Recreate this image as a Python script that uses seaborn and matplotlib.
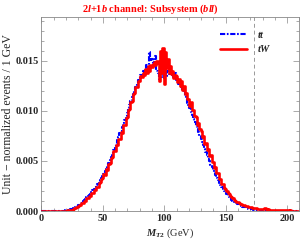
import numpy as np
import pandas as pd
import matplotlib
matplotlib.use("Agg")
import matplotlib.pyplot as plt
from matplotlib.ticker import MultipleLocator, FormatStrFormatter
import seaborn as sns

# --- DATA (unit-normalized events per 1 GeV bin, in units of 1e-4) ---
MT2_BINS = list(range(0, 210))

TW_VALUES = [
    0, 0, 0, 0, 0, 0, 0, 0, 0, 0,
    0, 0, 0, 0, 0, 0, 0, 0, 0.2, 0.3,
    0.5, 0.6, 1, 0.8, 1.2, 1.5, 2, 2.6, 3.2, 4,
    4.6, 6, 6.2, 8, 8, 10.5, 10.5, 13, 13, 15.5,
    15.5, 18, 18, 21, 21, 24.5, 24.5, 28.5, 29, 32,
    33, 37, 36, 42, 41, 47, 48, 53, 54, 60,
    60, 66, 66, 72, 72, 79, 78, 86, 86, 93,
    94, 101, 102, 109, 110, 117, 118, 124, 124, 130,
    130, 135, 134, 138, 136, 142, 138, 145, 140, 146,
    144, 147, 149, 146, 150, 148, 130, 160, 138, 163,
    127, 159, 143, 152, 138, 145, 137, 140, 133, 136,
    135, 129, 132, 125, 130, 121, 125, 117, 118, 112,
    112, 105, 109, 101, 101, 95, 94, 86, 88, 82,
    80, 74, 75, 67, 68, 61, 62, 55, 56, 49,
    49, 43, 44, 38, 38, 32, 32, 27, 27, 23,
    22, 20, 18, 17, 15, 14, 13, 11, 10, 9.5,
    9, 8.3, 7.5, 7, 6.5, 6, 5.5, 5, 4.6, 4.2,
    4, 3.6, 3.4, 3, 3, 2.6, 2.5, 2.3, 2.2, 2,
    2.2, 1.8, 3, 1.6, 1.5, 1.7, 1.4, 1.3, 1.5, 1.2,
    1.2, 1, 1.1, 0.9, 1, 0.8, 0.9, 0.7, 0.8, 0.6,
    0.7, 0.6, 0.5, 0.6, 0.5, 0.4, 0.5, 0.4, 0.4, 0.3,
]

TT_VALUES = [
    0, 0, 0, 0, 0, 0, 0, 0, 0, 0,
    0, 0, 0, 0, 0, 0, 0, 0.2, 0.3, 0.4,
    0.6, 0.8, 1.2, 1.5, 1.8, 2.3, 2.8, 3.5, 4.2, 5,
    5.8, 6.5, 7.6, 8.5, 9.8, 11, 12, 13.6, 15, 16,
    17.5, 19, 21, 22, 24, 26, 27.5, 29, 31, 33,
    35, 37.5, 40, 42, 45, 48, 51, 54, 57, 61,
    64, 67, 71, 74, 78, 80, 84, 88, 91, 95,
    98, 103, 106, 110, 114, 117, 121, 124, 127, 131,
    133, 136, 134, 140, 138, 143, 146, 141, 159, 150,
    152, 146, 149, 155, 140, 138, 132, 137, 134, 136,
    133, 139, 135, 140, 137, 142, 136, 138, 134, 138,
    131, 133, 127, 129, 124, 120, 121, 115, 112, 108,
    106, 103, 99, 96, 92, 89, 85, 82, 79, 75,
    72, 69, 66, 62, 59, 56, 52, 50, 46, 44,
    41, 38, 36, 33, 31, 28, 26, 24, 22, 20,
    19, 17, 15.5, 14, 13, 11.5, 10.5, 9.5, 8.5, 7.8,
    7, 6.2, 5.6, 5, 4.5, 4, 3.6, 3.2, 2.8, 2.5,
    2.2, 2, 1.7, 1.5, 1.3, 1.1, 1, 0.8, 0.7, 0.6,
    0.5, 0.4, 0.4, 0.3, 0.3, 0.2, 0.2, 0.2, 0.1, 0.1,
    0.1, 0.1, 0.1, 0, 0.1, 0, 0, 0, 0, 0,
    0, 0, 0, 0, 0, 0, 0, 0, 0, 0,
]

TOP_MASS = 173

# --- STYLE ---
sns.set_theme(style="ticks")
plt.rcParams["font.family"] = ["Liberation Serif", "DejaVu Serif"]
plt.rcParams["font.weight"] = "bold"
plt.rcParams["mathtext.fontset"] = "custom"
plt.rcParams["mathtext.rm"] = "Liberation Serif:bold"
plt.rcParams["mathtext.it"] = "Liberation Serif:bold:italic"
plt.rcParams["mathtext.bf"] = "Liberation Serif:bold"

df_tt = pd.DataFrame({"mt2": MT2_BINS, "y": np.array(TT_VALUES) * 1e-4})
df_tw = pd.DataFrame({"mt2": MT2_BINS, "y": np.array(TW_VALUES) * 1e-4})

fig = plt.figure(figsize=(3.0, 2.42), dpi=100)
ax = fig.add_axes([0.138, 0.128, 0.86, 0.800])

sns.lineplot(data=df_tt, x="mt2", y="y", ax=ax, color="#0000ff", lw=1.5,
             linestyle=(0, (2.5, 0.8, 0.8, 0.8)), drawstyle="steps-mid",
             label=r"$tt$", zorder=3)
sns.lineplot(data=df_tw, x="mt2", y="y", ax=ax, color="#ff0000", lw=1.9,
             drawstyle="steps-mid", label=r"$tW$", zorder=4)
ax.axvline(TOP_MASS, color="#999999", lw=0.7, ls=(0, (4, 3)), zorder=1)

ax.set_xlim(0, 210)
ax.set_ylim(0, 0.01935)
ax.xaxis.set_major_locator(MultipleLocator(50))
ax.xaxis.set_minor_locator(MultipleLocator(10))
ax.yaxis.set_major_locator(MultipleLocator(0.005))
ax.yaxis.set_minor_locator(MultipleLocator(0.001))
ax.yaxis.set_major_formatter(FormatStrFormatter("%.3f"))
ax.tick_params(which="both", direction="in", top=True, right=True,
               labelsize=7.5, color="#888888", pad=2)
ax.tick_params(which="major", length=4, width=0.5)
ax.tick_params(which="minor", length=2, width=0.5)
for s in ax.spines.values():
    s.set_color("#888888")
    s.set_linewidth(0.6)

ax.set_xlabel(r"$M_{T2}$ (GeV)", fontsize=7.5, labelpad=3)
ax.set_ylabel("Unit \u2212 normalized events / 1 GeV", fontsize=8.5, labelpad=1)
fig.suptitle(r"$2l$+1$b$ channel: Subsystem ($bll$)", color="#ff0000",
             fontsize=7.5, fontweight="bold", y=0.99)

ax.legend(loc="upper right", bbox_to_anchor=(0.93, 0.99), frameon=False,
          fontsize=7.5, handlelength=2.6, handletextpad=1.0, labelspacing=0.35)

fig.savefig("out.png", dpi=100)
